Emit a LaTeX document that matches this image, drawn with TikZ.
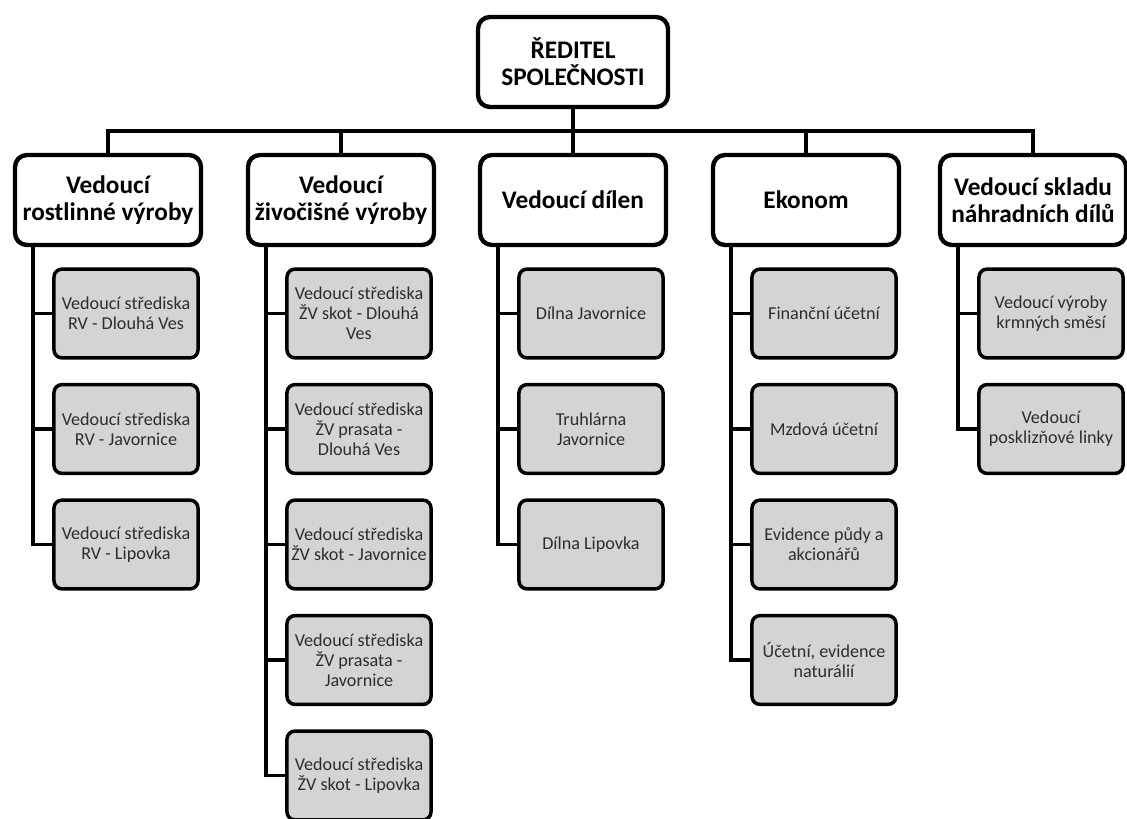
\documentclass[tikz,border=0pt]{standalone}
\usepackage{fontspec}
\setmainfont{Carlito}
\definecolor{boxgray}{RGB}{212,212,212}
\definecolor{textgray}{RGB}{45,45,45}
\tikzset{
  headbox/.style={draw, line width=3.1pt, rounded corners=0.3cm, fill=white,
    minimum width=4.65cm, minimum height=2.25cm, align=center, inner sep=1pt,
    font=\fontsize{18}{19.2}\selectfont\bfseries},
  unitbox/.style={draw, line width=2.5pt, rounded corners=0.2cm, fill=boxgray,
    minimum width=3.6cm, minimum height=2.22cm, align=center, inner sep=1pt,
    text=textgray, font=\fontsize{12.9}{14.2}\selectfont},
  link/.style={line width=2.6pt}
}
\begin{document}
\begin{tikzpicture}[x=0.025cm, y=-0.025cm]
  \useasboundingbox (0,0) rectangle (1127,818);
      % reditel
      \node[headbox, minimum width=4.75cm] (top) at (573,62) {ŘEDITEL\\SPOLEČNOSTI};
      \coordinate (bus) at (573,131);
      % vedouci
      \node[headbox] (b1) at (108,200) {Vedoucí\\rostlinné výroby};
      \node[headbox] (b2) at (341,200) {Vedoucí\\živočišné výroby};
      \node[headbox] (b3) at (573,200) {Vedoucí dílen};
      \node[headbox] (b4) at (806,200) {Ekonom};
      \node[headbox] (b5) at (1033,200) {Vedoucí skladu\\náhradních dílů};
      % strediska
      \node[unitbox] (c11) at (126,313.5) {Vedoucí střediska\\RV - Dlouhá Ves};
      \node[unitbox] (c12) at (126,429) {Vedoucí střediska\\RV - Javornice};
      \node[unitbox] (c13) at (126,544.5) {Vedoucí střediska\\RV - Lipovka};
      \node[unitbox] (c21) at (359,313.5) {Vedoucí střediska\\ŽV skot - Dlouhá\\Ves};
      \node[unitbox] (c22) at (359,429) {Vedoucí střediska\\ŽV prasata -\\Dlouhá Ves};
      \node[unitbox] (c23) at (359,544.5) {Vedoucí střediska\\ŽV skot - Javornice};
      \node[unitbox] (c24) at (359,660) {Vedoucí střediska\\ŽV prasata -\\Javornice};
      \node[unitbox] (c25) at (359,775.5) {Vedoucí střediska\\ŽV skot - Lipovka};
      \node[unitbox] (c31) at (591,313.5) {Dílna Javornice};
      \node[unitbox] (c32) at (591,429) {Truhlárna\\Javornice};
      \node[unitbox] (c33) at (591,544.5) {Dílna Lipovka};
      \node[unitbox] (c41) at (824,313.5) {Finanční účetní};
      \node[unitbox] (c42) at (824,429) {Mzdová účetní};
      \node[unitbox] (c43) at (824,544.5) {Evidence půdy a\\akcionářů};
      \node[unitbox] (c44) at (824,660) {Účetní, evidence\\naturálií};
      \node[unitbox] (c51) at (1051,313.5) {Vedoucí výroby\\krmných směsí};
      \node[unitbox] (c52) at (1051,429) {Vedoucí\\posklizňové linky};
    \draw[link] (top.south) -- (bus) -| (b1.north);
    \draw[link] (bus) -| (b2.north);
    \draw[link] (bus) -- (b3.north);
    \draw[link] (bus) -| (b4.north);
    \draw[link] (bus) -| (b5.north);
    \draw[link] ([xshift=-1.875cm]b1.south) |- (c11.west);
    \draw[link] ([xshift=-1.875cm]b1.south) |- (c12.west);
    \draw[link] ([xshift=-1.875cm]b1.south) |- (c13.west);
    \draw[link] ([xshift=-1.875cm]b2.south) |- (c21.west);
    \draw[link] ([xshift=-1.875cm]b2.south) |- (c22.west);
    \draw[link] ([xshift=-1.875cm]b2.south) |- (c23.west);
    \draw[link] ([xshift=-1.875cm]b2.south) |- (c24.west);
    \draw[link] ([xshift=-1.875cm]b2.south) |- (c25.west);
    \draw[link] ([xshift=-1.875cm]b3.south) |- (c31.west);
    \draw[link] ([xshift=-1.875cm]b3.south) |- (c32.west);
    \draw[link] ([xshift=-1.875cm]b3.south) |- (c33.west);
    \draw[link] ([xshift=-1.875cm]b4.south) |- (c41.west);
    \draw[link] ([xshift=-1.875cm]b4.south) |- (c42.west);
    \draw[link] ([xshift=-1.875cm]b4.south) |- (c43.west);
    \draw[link] ([xshift=-1.875cm]b4.south) |- (c44.west);
    \draw[link] ([xshift=-1.875cm]b5.south) |- (c51.west);
    \draw[link] ([xshift=-1.875cm]b5.south) |- (c52.west);
\end{tikzpicture}
\end{document}
